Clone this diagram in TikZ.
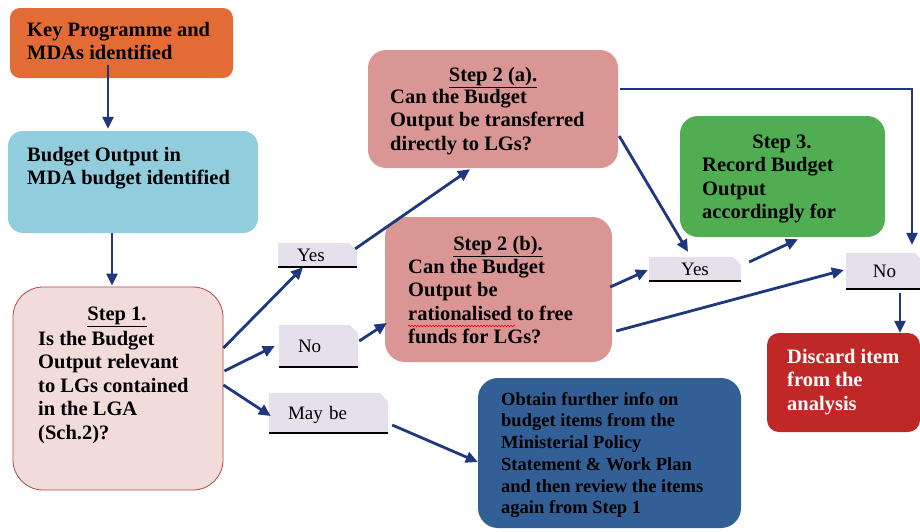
\documentclass[tikz,border=0pt]{standalone}
\usepackage{fontspec}
\setmainfont{Liberation Serif}
\usetikzlibrary{calc,arrows.meta,shapes.misc,decorations.pathmorphing}
\definecolor{corange}{RGB}{227,108,54}
\definecolor{ccyan}{RGB}{146,205,221}
\definecolor{cpink}{RGB}{242,220,219}
\definecolor{cpinkb}{RGB}{180,70,70}
\definecolor{crose}{RGB}{217,150,148}
\definecolor{cgreen}{RGB}{80,173,82}
\definecolor{cred}{RGB}{192,40,40}
\definecolor{cblue}{RGB}{50,95,150}
\definecolor{clabel}{RGB}{229,224,236}
\definecolor{carrow}{RGB}{30,55,125}
\tikzset{
  box/.style={rectangle, draw=none, inner sep=0pt},
  txt/.style={font=\fontsize{20.5}{23.5}\selectfont\bfseries, align=left, inner sep=0pt, anchor=north west},
  ttl/.style={font=\fontsize{20.5}{23.5}\selectfont\bfseries, inner sep=0pt, anchor=base},
  lbl/.style={chamfered rectangle, chamfered rectangle corners=north east,
     chamfered rectangle xsep=4pt, chamfered rectangle ysep=4pt,
     fill=clabel, draw=none, inner xsep=15pt, inner ysep=0pt,
     font=\fontsize{19}{22}\selectfont, text height=14pt, text depth=2pt},
  conn/.style={draw=carrow, line width=2.8pt, -{Triangle[length=12pt,width=11pt]}},
  uline/.style={line width=2.2pt, black}
}
\begin{document}
\begin{tikzpicture}[x=1pt,y=-1pt]
\useasboundingbox (0,0) rectangle (920,531);
\clip (0,0) rectangle (920,531);
% boxes
\node[box, fill=corange, minimum width=223pt, minimum height=70pt, rounded corners=10pt] (o1) at (121.5,43) {};
\node[box, fill=ccyan, minimum width=250pt, minimum height=102pt, rounded corners=15pt] (c1) at (133,182) {};
\node[box, fill=cpink, draw=cpinkb, line width=0.8pt, minimum width=210pt, minimum height=203pt, rounded corners=30pt] (s1) at (118,388.5) {};
\node[box, fill=crose, minimum width=250pt, minimum height=118pt, rounded corners=18pt] (s2a) at (493,109) {};
\node[box, fill=crose, minimum width=227pt, minimum height=145pt, rounded corners=20pt] (s2b) at (498.5,289.5) {};
\node[box, fill=cgreen, minimum width=205pt, minimum height=121pt, rounded corners=18pt] (s3) at (782.5,176.5) {};
\node[box, fill=cred, minimum width=153pt, minimum height=99pt, rounded corners=12pt] (dis) at (843.5,382.5) {};
\node[box, fill=cblue, minimum width=263pt, minimum height=150pt, rounded corners=20pt] (ob) at (609.5,453) {};
% texts
\node[txt] (o1t) at (27,19.6) {\strut Key Programme and\\MDAs identified};
\node[txt] (c1t) at (27,144.5) {\strut Budget Output in\\MDA budget identified};
\node[ttl] (s1h) at (117,320) {\underline{Step 1.}};
\node[txt] (s1t) at (38,328.5) {\strut Is the Budget\\Output relevant\\to LGs contained\\in the LGA\\(Sch.2)?};
\node[ttl] (s2ah) at (493,81.7) {\underline{Step 2 (a).}};
\node[txt] (s2at) at (390,86.5) {\strut Can the Budget\\Output be transferred\\directly to LGs?};
\node[ttl] (s2bh) at (498,250) {\underline{Step 2 (b).}};
\node[txt] (s2bt) at (408,256.5) {\strut Can the Budget\\Output be\\rationalised to free\\funds for LGs?};
\node[ttl] (s3h) at (782,148) {Step 3.};
\node[txt] (s3t) at (702,155.2) {\strut Record Budget\\Output\\accordingly for};
\node[txt, text=white] (dist) at (787,346.5) {\strut Discard item\\from the\\analysis};
\node[txt, font=\fontsize{18.5}{21.7}\selectfont\bfseries] (obt) at (501,389.8) {\strut Obtain further info on\\budget items from the\\Ministerial Policy\\Statement \& Work Plan\\and then review the items\\again from Step 1};
\draw[red, line width=0.6pt, decorate, decoration={snake, amplitude=0.8pt, segment length=3pt}] (408,326) -- (515,326);
% labels
\node[lbl, text width=41pt, align=left] (y1) at (317.5,255) {Yes};
\node[lbl, text width=41pt, align=left, minimum height=42pt] (n1) at (318.5,346) {No};
\node[lbl, text width=81pt, align=left, minimum height=40pt] (m1) at (328.5,413) {May be};
\node[lbl, text width=54pt, align=center] (y2) at (695,269) {Yes};
\node[lbl, text width=39pt, align=center, minimum height=36pt] (n2) at (884.5,271) {No};
\foreach \n in {y1,n1,m1,y2,n2} {
  \draw[uline] (\n.south west) -- (\n.south east);
}
% connectors
\draw[conn] ($(o1.south)+(-13.5,-13)$) -- ($(c1.north)+(-25,-2)$);
\draw[conn] ($(c1.south)+(-21,0)$) -- ($(s1.north)+(-6,-1)$);
\draw[conn] ($(s1.east)+(0,-40.5)$) -- ($(y1.south)+(-14.5,0)$);
\draw[conn] ($(y1.north east)+(2,2)$) -- ($(s2a.south)+(-23,1)$);
\draw[conn] ($(s1.east)+(1,-17.5)$) -- ($(n1.west)+(-4,0)$);
\draw[conn] ($(n1.east)+(1,-5)$) -- ($(s2b.west)+(2,33.5)$);
\draw[conn] ($(s1.east)+(0,-3.5)$) -- ($(m1.west)+(2,3)$);
\draw[conn] ($(m1.east)+(4,12)$) -- ($(ob.west)+(0,9)$);
\draw[conn] ($(s2a.east)+(1,27)$) -- ($(y2.north)+(-7,-5)$);
\draw[conn] ($(s2a.east)+(2,-20)$) -| ($(n2.north)+(27.5,-8)$);
\draw[conn] ($(s2b.east)+(-2,-2.5)$) -- ($(y2.west)+(-1,1)$);
\draw[conn] ($(y2.east)+(8,-7)$) -- ($(s3.south)+(15.5,2)$);
\draw[conn] ($(s2b.east)+(4,41.5)$) -- ($(n2.west)+(-2,-1)$);
\draw[conn] ($(n2.south)+(15.5,4)$) -- ($(dis.north)+(56.5,0)$);
\end{tikzpicture}
\end{document}
